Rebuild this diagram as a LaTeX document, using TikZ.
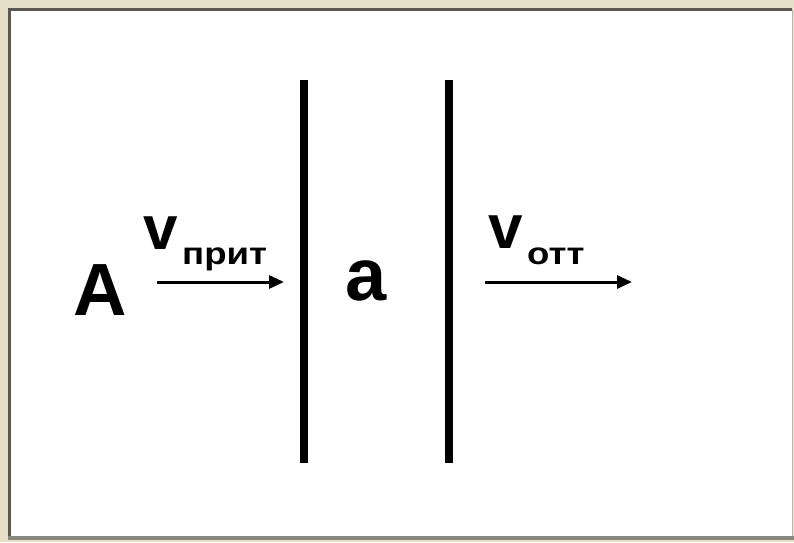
\documentclass[tikz,border=0pt]{standalone}
\usepackage{fontspec}
\setmainfont{Liberation Sans}
\newfontfamily\subfont[FakeStretch=1.18]{Liberation Sans}
\usetikzlibrary{arrows.meta}
\definecolor{framebg}{HTML}{E8E0C6}
\definecolor{shadowc}{HTML}{5A5650}
\definecolor{bottomc}{HTML}{8A8680}
\begin{document}
\begin{tikzpicture}[x=1pt,y=-1pt,
  bigtxt/.style={font=\fontsize{74}{74}\selectfont\bfseries, inner sep=0pt, anchor=base},
  vtxt/.style={font=\fontsize{62}{62}\selectfont\bfseries, inner sep=0pt, anchor=base},
  subtxt/.style={font=\subfont\fontsize{31}{31}\selectfont\bfseries, inner sep=0pt, anchor=base west},
  wall/.style={line width=8pt},
  vel/.style={line width=3pt, -{Triangle[length=15pt,width=13pt]}}]
\useasboundingbox (0,0) rectangle (794,542);
\fill[framebg] (0,0) rectangle (794,542);
\fill[white] (10,10) rectangle (792,536);
\draw[line width=3pt, shadowc] (9.5,536) -- (9.5,9.5) -- (792,9.5);
\draw[line width=4pt, bottomc] (8,537.5) -- (794,537.5);
\draw[line width=1pt, bottomc!60] (792.5,10) -- (792.5,536);
% walls
\coordinate (w1t) at (304,80);
\coordinate (w1b) at (304,463);
\coordinate (w2t) at (449,80);
\coordinate (w2b) at (449,463);
\draw[wall] (w1t) -- (w1b);
\draw[wall] (w2t) -- (w2b);
% labels
\node[bigtxt] (A) at (100,315) {A};
\node[bigtxt] (a) at (366,300) {a};
\node[vtxt] (v1) at (161,249) {v};
\node[subtxt] (s1) at (182,264) {прит};
\node[vtxt] (v2) at (506,248) {v};
\node[subtxt] (s2) at (527,264) {отт};
% arrows
\coordinate (a1s) at (157,282);
\coordinate (a1e) at (284,282);
\coordinate (a2s) at (485,282);
\coordinate (a2e) at (632,282);
\draw[vel] (a1s) -- (a1e);
\draw[vel] (a2s) -- (a2e);
\end{tikzpicture}
\end{document}
